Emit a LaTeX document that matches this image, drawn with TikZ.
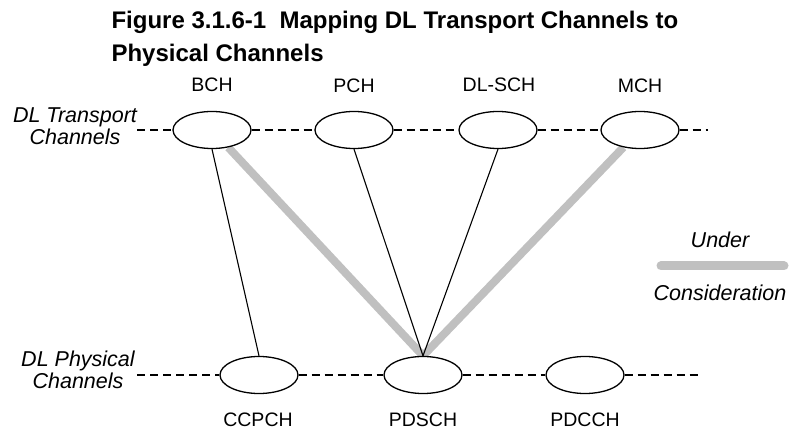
\documentclass[tikz,border=0pt]{standalone}
\usepackage{fontspec}
\setmainfont{Liberation Sans}
\usetikzlibrary{shapes.geometric,backgrounds}
\definecolor{consgray}{RGB}{192,192,192}

\tikzset{
  chan/.style={ellipse, draw, line width=1.3pt, fill=white,
    minimum width=78pt, minimum height=37pt, inner sep=0pt},
  chanlabel/.style={font=\fontsize{19.5}{22}\selectfont},
  sidelabel/.style={font=\fontsize{21.5}{22}\selectfont\itshape, align=center},
  chanline/.style={line width=2pt, dash pattern=on 8pt off 5pt},
  maplink/.style={line width=1.1pt},
  conslink/.style={line width=8pt, consgray},
}

\begin{document}
\begin{tikzpicture}[x=1pt, y=-1pt]
   \useasboundingbox (0, 0) rectangle (792, 430);

   % title
   \node[anchor=west, align=left, font=\fontsize{24}{33}\selectfont\bfseries]
     (title) at (108, 38.5) {Figure 3.1.6-1\ \ Mapping DL Transport Channels to\\Physical Channels};

   % transport channels
   \node[chan] (bch) at (212, 130) {};
   \node[chan] (pch) at (354, 130) {};
   \node[chan] (dlsch) at (498, 130) {};
   \node[chan] (mch) at (640, 130) {};
   \node[chanlabel] (bchlabel) at (212, 85) {BCH};
   \node[chanlabel] (pchlabel) at (354, 86) {PCH};
   \node[chanlabel] (dlschlabel) at (499, 85) {DL-SCH};
   \node[chanlabel] (mchlabel) at (640, 86) {MCH};

   % physical channels
   \node[chan] (ccpch) at (259, 375) {};
   \node[chan] (pdsch) at (423, 375) {};
   \node[chan] (pdcch) at (585, 375) {};
   \node[chanlabel] (ccpchlabel) at (258, 420) {CCPCH};
   \node[chanlabel] (pdschlabel) at (423, 420) {PDSCH};
   \node[chanlabel] (pdcchlabel) at (585, 420) {PDCCH};

   % side labels
   \node[sidelabel] (transport) at (75, 126) {DL Transport\\Channels};
   \node[sidelabel] (physical) at (78, 370) {DL Physical\\Channels};

   % dashed channel lines
   \coordinate (tl) at (137, 130);
   \coordinate (tr) at (708, 130);
   \coordinate (bl) at (137, 375);
   \coordinate (br) at (702, 375);
   \draw[chanline] (tl) -- (bch) (bch) -- (pch) (pch) -- (dlsch) (dlsch) -- (mch) (mch) -- (tr);
   \draw[chanline] (bl) -- (ccpch) (ccpch) -- (pdsch) (pdsch) -- (pdcch) (pdcch) -- (br);

   % mappings
   \begin{scope}[on background layer]
     \draw[conslink] (bch) -- (pdsch.north);
     \draw[conslink] (mch) -- (pdsch.north);
   \end{scope}
   \draw[maplink] (bch.south) -- (ccpch.north);
   \draw[maplink] (pch.south) -- (pdsch.north);
   \draw[maplink] (dlsch.south) -- (pdsch.north);

   % legend
   \node[sidelabel] (under) at (720, 240) {Under};
   \coordinate (legl) at (661, 266);
   \coordinate (legr) at (784, 266);
   \draw[conslink, line width=9pt, line cap=round] (legl) -- (legr);
   \node[sidelabel] (consid) at (720, 293) {Consideration};
\end{tikzpicture}
\end{document}
